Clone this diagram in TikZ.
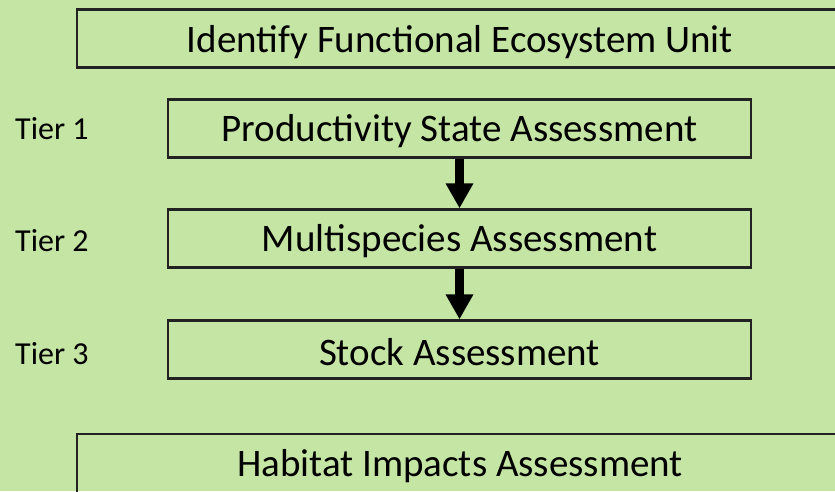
\documentclass[tikz,border=0pt]{standalone}
\usepackage{fontspec}
\setmainfont{Carlito}
\usetikzlibrary{arrows.meta}
\definecolor{bg}{HTML}{C5E5A4}
\definecolor{ln}{HTML}{222222}
\begin{document}
\begin{tikzpicture}[x=1pt,y=-1pt,
  box/.style={draw=ln,line width=2.2pt,minimum height=58pt,inner sep=0pt,font=\fontsize{39}{46}\selectfont},
  lbl/.style={font=\fontsize{39}{46}\selectfont,inner sep=0pt},
  tier/.style={font=\fontsize{32}{38}\selectfont,anchor=west,inner sep=0pt},
  flow/.style={line width=9pt,-{Triangle[width=26pt,length=25pt]}}]
\fill[bg] (0,0) rectangle (835,491);
\useasboundingbox (0,0) rectangle (835,491);
\begin{scope}
\clip (0,0) rectangle (835,491);
\node[box,minimum width=766pt] (top) at (460,38.5) {};
\node[lbl] (toptext) at (460,42) {Identify Functional Ecosystem Unit};
\node[box,minimum width=766pt,minimum height=70pt] (hab) at (460,469) {};
\node[lbl] (habtext) at (460,466) {Habitat Impacts Assessment};
\end{scope}
\node[box,minimum width=583pt] (b1) at (459.5,128.5) {};
\node[lbl] (b1t) at (459.5,131) {Productivity State Assessment};
\node[box,minimum width=583pt] (b2) at (459.5,238.5) {};
\node[lbl] (b2t) at (459.5,241) {Multispecies Assessment};
\node[box,minimum width=583pt] (b3) at (459.5,349.5) {};
\node[lbl] (b3t) at (459.5,352) {Stock Assessment};
\node[tier] (t1) at (15,129) {Tier 1};
\node[tier] (t2) at (15,241) {Tier 2};
\node[tier] (t3) at (15,354) {Tier 3};
\draw[flow] (b1.south) -- (b2.north);
\draw[flow] (b2.south) -- (b3.north);
\end{tikzpicture}
\end{document}
